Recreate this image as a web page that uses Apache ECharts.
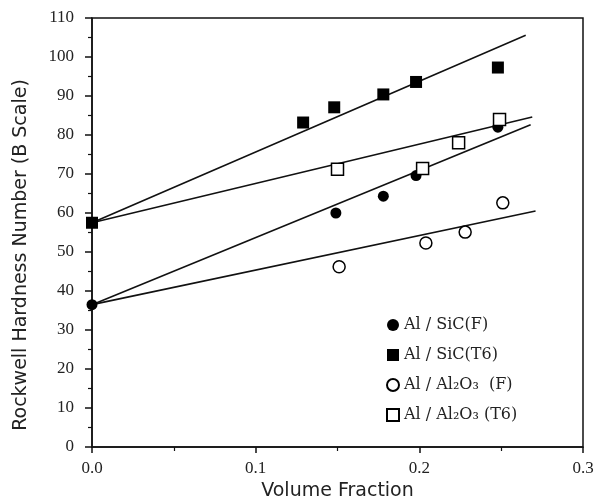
<!DOCTYPE html>
<html><head><meta charset="utf-8">
<script src="https://cdn.jsdelivr.net/npm/echarts@6/dist/echarts.min.js"></script>
<style>html,body{margin:0;padding:0;background:#fff}#c{width:597px;height:504px}</style>
</head><body><div id="c"></div>
<script>
// Data
var seriesNames = ['Al / SiC(F)', 'Al / SiC(T6)', 'Al / Al\u2082O\u2083  (F)', 'Al / Al\u2082O\u2083 (T6)'];
var sicF   = [[0, 36.5], [0.149, 60], [0.178, 64.3], [0.198, 69.6], [0.248, 82]];
var sicT6  = [[0, 57.5], [0.129, 83.2], [0.148, 87.1], [0.178, 90.4], [0.198, 93.6], [0.248, 97.3]];
var aloF   = [[0.151, 46.2], [0.204, 52.3], [0.228, 55.1], [0.251, 62.6]];
var aloT6  = [[0.150, 71.2], [0.202, 71.4], [0.224, 78], [0.249, 84]];
// fitted lines (start and end points)
var fitSicF  = [[0, 36.5], [0.268, 82.6]];
var fitSicT6 = [[0, 57.5], [0.265, 105.6]];
var fitAloF  = [[0, 36.5], [0.271, 60.5]];
var fitAloT6 = [[0, 57.5], [0.269, 84.6]];
var xTicks = [0, 0.1, 0.2, 0.3];
var yTicks = [0, 10, 20, 30, 40, 50, 60, 70, 80, 90, 100, 110];

var chart = echarts.init(document.getElementById('c'));
var serif = "'Liberation Serif', 'DejaVu Serif', serif";
var legSerif = "'DejaVu Serif', serif";
var sans = "'DejaVu Sans', sans-serif";
function lineSeries(d){
  return {type:'line', data:d, symbol:'none', silent:true, z:1,
    lineStyle:{color:'#111', width:1.6}};
}
chart.setOption({
  animation:false,
  backgroundColor:'#fff',
  grid:{left:92, right:14, top:18, bottom:57, containLabel:false, outerBoundsMode:'none',
    show:true, borderColor:'#111', borderWidth:1.5, backgroundColor:'transparent'},
  xAxis:{type:'value', min:xTicks[0], max:xTicks[xTicks.length-1], interval:0.1,
    name:'Volume Fraction', nameLocation:'middle', nameGap:32,
    nameTextStyle:{fontFamily:sans, fontSize:19, color:'#222'},
    axisLine:{lineStyle:{color:'#111', width:1.5}},
    axisTick:{length:6, lineStyle:{color:'#111', width:1.5}},
    minorTick:{show:true, splitNumber:2, length:4, lineStyle:{color:'#111', width:1.2}},
    splitLine:{show:false},
    axisLabel:{fontFamily:serif, fontSize:17, color:'#222', margin:13, formatter:function(v){return v.toFixed(1);}}
  },
  yAxis:{type:'value', min:yTicks[0], max:yTicks[yTicks.length-1], interval:10,
    axisLine:{lineStyle:{color:'#111', width:1.5}},
    axisTick:{length:7, lineStyle:{color:'#111', width:1.5}},
    minorTick:{show:true, splitNumber:2, length:4, lineStyle:{color:'#111', width:1.2}},
    splitLine:{show:false},
    axisLabel:{fontFamily:serif, fontSize:17, color:'#222', margin:18}
  },
  graphic:[{type:'text', x:21, y:255, rotation:Math.PI/2,
    style:{text:'Rockwell Hardness Number (B Scale)', font:'19px '+sans, fill:'#222', textAlign:'center', textVerticalAlign:'middle'}}],
  legend:{orient:'vertical', left:381, top:312, itemGap:14, itemWidth:12, itemHeight:12,
    data:seriesNames,
    textStyle:{fontFamily:legSerif, fontSize:16, color:'#222'}},
  series:[
    lineSeries(fitSicF), lineSeries(fitSicT6), lineSeries(fitAloF), lineSeries(fitAloT6),
    {name:seriesNames[0], type:'scatter', data:sicF, symbol:'circle', symbolSize:11, z:3,
      itemStyle:{color:'#000', opacity:1}},
    {name:seriesNames[1], type:'scatter', data:sicT6, symbol:'rect', symbolSize:12, z:3,
      itemStyle:{color:'#000', opacity:1}},
    {name:seriesNames[2], type:'scatter', data:aloF, symbol:'circle', symbolSize:12, z:3,
      itemStyle:{color:'#fff', borderColor:'#000', borderWidth:1.5, opacity:1}},
    {name:seriesNames[3], type:'scatter', data:aloT6, symbol:'rect', symbolSize:12, z:3,
      itemStyle:{color:'#fff', borderColor:'#000', borderWidth:1.5, opacity:1}}
  ]
});
</script></body></html>
